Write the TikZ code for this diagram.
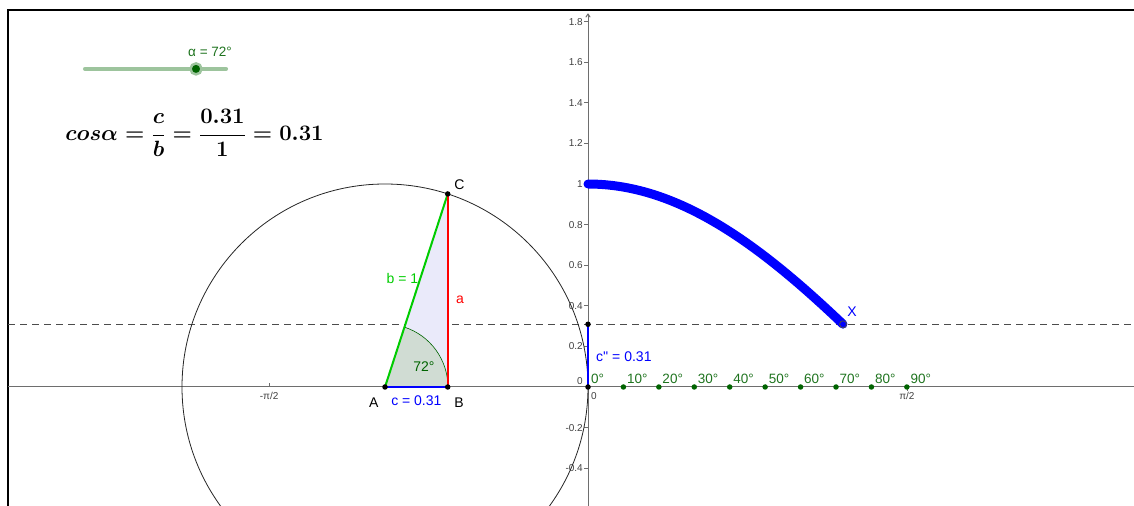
\documentclass[tikz,border=0pt]{standalone}
\usepackage[no-math]{fontspec}
\setmainfont{Liberation Sans}[Ligatures=TeXOff]
\usetikzlibrary{arrows.meta, positioning}

\definecolor{ggdark}{RGB}{0,100,0}
\definecolor{ggtext}{RGB}{30,115,30}
\definecolor{ggslider}{RGB}{157,196,157}
\definecolor{ggaxis}{RGB}{110,110,110}
\definecolor{ggtri}{RGB}{234,234,250}
\definecolor{ggsector}{RGB}{208,220,211}
\definecolor{gglime}{RGB}{0,204,0}
\definecolor{ggblue}{RGB}{0,0,255}
\definecolor{ggred}{RGB}{255,0,0}

\newcommand{\cosformula}{$\displaystyle cos\alpha=\frac{c}{b}=\frac{0.31}{1}=0.31$}

\begin{document}
\begin{tikzpicture}[
    x=203pt, y=203pt,
    axis/.style={ggaxis, line width=1pt},
    pt/.style={circle, fill=black, inner sep=0pt, minimum size=5.5pt},
    degpt/.style={circle, fill=ggdark, inner sep=0pt, minimum size=5.5pt},
    axislbl/.style={font=\fontsize{10}{11}\selectfont, text=black!75, inner sep=1pt},
    deglbl/.style={font=\fontsize{13.5}{15}\selectfont, text=ggtext, anchor=south west, inner sep=1pt},
    lbl/.style={font=\fontsize{14}{16}\selectfont},
    side/.style={line width=2pt}
]

    \useasboundingbox (-2.8966,-0.5862) rectangle (2.6897,1.9064);
    \clip (-2.8966,-0.5862) rectangle (2.6897,1.9064);

    % Frame
    \draw[line width=2.5pt] (-2.857,-0.6) -- (-2.857,1.857) -- (2.7,1.857);

    % Axes
    \coordinate (O) at (0,0);
    \coordinate (xleft) at (-2.857,0);
    \coordinate (xright) at (2.7,0);
    \coordinate (ybottom) at (0,-0.6);
    \coordinate (ytop) at (0,1.84);
    \draw[axis] (xleft) -- (xright);
    \draw[axis, -{To[length=4pt,width=5pt]}] (ybottom) -- (ytop);
    \foreach \v in {-0.4,-0.2,0.2,0.4,0.6,0.8,1,1.2,1.4,1.6,1.8} {
        \draw[axis, line width=0.6pt] (-0.02,\v) -- (0,\v);
        \node[axislbl, anchor=east] at (-0.02,\v) {\v};
    }
    \node[axislbl, anchor=east] at (-0.02,0.03) {0};
    \node[axislbl, anchor=north west] at (0.01,-0.02) {0};
    \draw[axis, line width=0.6pt] (-1.5708,0) -- (-1.5708,0.02);
    \draw[axis, line width=0.6pt] (1.5708,0) -- (1.5708,-0.02);
    \node[axislbl, anchor=north] at (-1.5708,-0.02) {-π/2};
    \node[axislbl, anchor=north] at (1.5708,-0.02) {π/2};

    % Level of cos alpha
    \coordinate (dashL) at (-2.857,0.309);
    \coordinate (dashR) at (2.7,0.309);
    \draw[black!70, line width=0.8pt, dash pattern=on 7pt off 5pt] (dashL) -- (dashR);

    % Unit circle and triangle
    \coordinate (A) at (-1,0);
    \coordinate (B) at (-0.691,0);
    \coordinate (C) at (-0.691,0.951);
    \draw[black!85, line width=0.8pt] (A) circle[radius=1];
    \fill[ggtri] (A) -- (B) -- (C) -- cycle;
    \filldraw[fill=ggsector, draw=ggdark, line width=0.6pt]
        (A) -- ++(0.31,0) arc[start angle=0, end angle=72, radius=0.31] -- cycle;
    \node[lbl, text=ggdark] (anglbl) at (-0.808,0.099) {72°};

    \draw[side, ggblue] (A) -- (B) node[midway, below=4pt, lbl, text=ggblue] {c = 0.31};
    \draw[side, gglime] (A) -- (C) node[pos=0.56, anchor=east, inner sep=1pt, lbl, text=gglime] {b = 1};
    \draw[side, ggred] (B) -- (C) node[pos=0.45, right=4pt, lbl, text=ggred] {a};

    \node[pt] (ptA) at (A) {};
    \node[pt] (ptB) at (B) {};
    \node[pt] (ptC) at (C) {};
    \node[lbl, below left=5pt and 1pt of ptA] {A};
    \node[lbl, below right=5pt and 1pt of ptB] {B};
    \node[lbl, above right=-1pt and 1pt of ptC] {C};

    % Projection on the y axis
    \coordinate (Cpp) at (0,0.309);
    \draw[side, ggblue] (O) -- (Cpp);
    \node[pt] (ptO) at (O) {};
    \node[pt] (ptCpp) at (Cpp) {};
    \node[lbl, text=ggblue, anchor=west] at (0.022,0.148) {c'' = 0.31};

    % Degree marks
    \node[deglbl] at (0.01,0.01) {0°};
    \foreach \k in {1,...,9} {
        \node[degpt] (d\k) at ({\k*pi/18},0) {};
        \node[deglbl] at ([shift={(0.012,0.012)}]d\k.center) {\k0°};
    }

    % cos curve
    \draw[ggblue, line width=9pt, line cap=round]
        plot[domain=0:1.2566, samples=60] (\x, {cos(\x r)});
    \node[circle, fill=ggblue, draw=black!70, line width=0.8pt, inner sep=0pt, minimum size=7pt] (X) at (1.2566,0.309) {};
    \node[lbl, text=ggblue, above right=1pt and -2pt of X] {X};

    % Slider
    \coordinate (sliderL) at (-2.478,1.567);
    \coordinate (sliderR) at (-1.783,1.567);
    \draw[ggslider, line width=4pt, line cap=round] (sliderL) -- (sliderR);
    \node[circle, fill=ggdark, draw=ggslider, line width=2.5pt, inner sep=0pt, minimum size=11pt] (knob) at (-1.931,1.567) {};
    \node[font=\fontsize{13.5}{15}\selectfont, text=ggtext] (alpha) at (-1.862,1.652) {α = 72°};

    % Formula
    \node[anchor=west, inner sep=0pt, font=\fontsize{20}{24}\selectfont\boldmath] (formula) at (-2.576,1.25) {\scalebox{1.065}{\cosformula}};

\end{tikzpicture}
\end{document}
